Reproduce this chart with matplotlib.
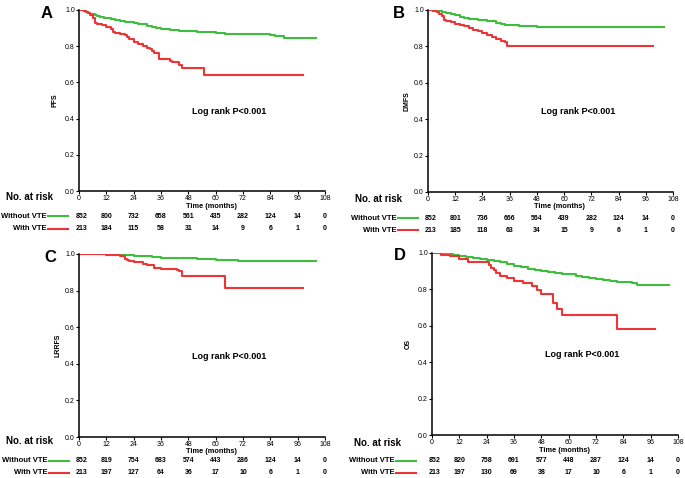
import matplotlib
matplotlib.use("Agg")
import matplotlib.pyplot as plt
from matplotlib.transforms import blended_transform_factory

plt.rcParams['font.family'] = ['Liberation Sans', 'DejaVu Sans']

W, H = 685, 478
GREEN = '#3dbf3d'
RED = '#ee3535'

risk_times = [0, 12, 24, 36, 48, 60, 72, 84, 96, 108]

# Panel A - PFS
a_t_without = [0, 1, 2, 3, 4, 5, 6, 7, 8, 9, 10, 11, 12, 14, 16, 18, 20, 22, 24, 26, 28, 30,
               32, 34, 36, 40, 44, 48, 52, 56, 60, 64, 68, 72, 78, 84, 86, 90, 104]
a_s_without = [1.0, 0.998, 0.995, 0.99, 0.985, 0.98, 0.976, 0.972, 0.968, 0.964, 0.96, 0.957,
               0.954, 0.948, 0.944, 0.94, 0.936, 0.932, 0.928, 0.925, 0.92, 0.913, 0.905,
               0.898, 0.893, 0.888, 0.885, 0.883, 0.88, 0.878, 0.874, 0.87, 0.868, 0.866,
               0.865, 0.862, 0.858, 0.844, 0.844]
a_t_with = [0, 2, 3, 4, 5, 6, 7, 8, 10, 12, 14, 15, 16, 18, 20, 21, 22, 24, 26, 28, 30, 31,
            32, 33, 35, 38, 40, 41, 44, 45, 48, 55, 98.5]
a_s_with = [1.0, 0.995, 0.99, 0.985, 0.97, 0.955, 0.93, 0.925, 0.915, 0.905, 0.895, 0.88,
            0.875, 0.87, 0.86, 0.85, 0.84, 0.822, 0.812, 0.8, 0.79, 0.785, 0.773, 0.76,
            0.727, 0.727, 0.72, 0.71, 0.695, 0.679, 0.679, 0.642, 0.642]
a_risk_without = [852, 800, 732, 658, 561, 435, 282, 124, 14, 0]
a_risk_with = [213, 184, 115, 58, 31, 14, 9, 6, 1, 0]

# Panel B - DMFS
b_t_without = [0, 2, 4, 6, 8, 10, 12, 14, 16, 18, 20, 22, 24, 26, 28, 30, 32, 34, 36, 40,
               44, 48, 60, 104]
b_s_without = [1.0, 0.997, 0.993, 0.987, 0.982, 0.977, 0.97, 0.963, 0.958, 0.953, 0.95,
               0.947, 0.945, 0.942, 0.937, 0.93, 0.925, 0.92, 0.917, 0.914, 0.912, 0.909,
               0.906, 0.906]
b_t_with = [0, 2, 4, 5, 6, 7, 8, 10, 12, 14, 16, 18, 20, 22, 24, 26, 28, 30, 32, 34, 35, 99]
b_s_with = [1.0, 0.995, 0.99, 0.98, 0.965, 0.945, 0.94, 0.935, 0.925, 0.918, 0.91, 0.9,
            0.892, 0.883, 0.872, 0.862, 0.85, 0.838, 0.83, 0.826, 0.804, 0.804]
b_risk_without = [852, 801, 736, 666, 564, 439, 282, 124, 14, 0]
b_risk_with = [213, 185, 118, 63, 34, 15, 9, 6, 1, 0]

# Panel C - LRRFS
c_t_without = [0, 10, 16, 20, 24, 28, 32, 36, 44, 52, 56, 60, 70, 104]
c_s_without = [1.0, 0.998, 0.996, 0.994, 0.991, 0.988, 0.982, 0.978, 0.976, 0.973, 0.97,
               0.966, 0.964, 0.963]
c_t_with = [0, 12, 15, 18, 20, 21, 22, 24, 28, 30, 33, 36, 43, 44, 45, 64, 98.5]
c_s_with = [1.0, 0.996, 0.992, 0.987, 0.975, 0.968, 0.961, 0.954, 0.948, 0.94, 0.923,
            0.92, 0.912, 0.905, 0.88, 0.814, 0.814]
c_risk_without = [852, 819, 754, 683, 574, 443, 286, 124, 14, 0]
c_risk_with = [213, 197, 127, 64, 36, 17, 10, 6, 1, 0]

# Panel D - OS
d_t_without = [0, 3, 6, 9, 12, 15, 18, 21, 24, 27, 30, 33, 36, 39, 42, 45, 48, 51, 54, 57,
               60, 63, 66, 69, 72, 75, 78, 81, 84, 88, 90, 104]
d_s_without = [1.0, 0.998, 0.995, 0.99, 0.985, 0.98, 0.975, 0.969, 0.962, 0.955, 0.948,
               0.94, 0.93, 0.922, 0.913, 0.906, 0.9, 0.896, 0.892, 0.887, 0.882, 0.876,
               0.87, 0.864, 0.857, 0.852, 0.848, 0.843, 0.84, 0.835, 0.822, 0.822]
d_t_with = [0, 4, 8, 12, 16, 24, 25, 26, 27, 28, 30, 33, 36, 40, 44, 46, 48, 53, 55, 57,
            81, 98]
d_s_with = [1.0, 0.99, 0.983, 0.965, 0.952, 0.95, 0.935, 0.92, 0.905, 0.89, 0.872, 0.865,
            0.844, 0.835, 0.817, 0.795, 0.775, 0.725, 0.69, 0.662, 0.582, 0.582]
d_risk_without = [852, 820, 758, 691, 577, 448, 287, 124, 14, 0]
d_risk_with = [213, 197, 130, 69, 38, 17, 10, 6, 1, 0]


fig = plt.figure(figsize=(W / 100, H / 100), dpi=100)


def px(x, y):
    # pixel (top-left origin) -> figure fraction
    return x / W, 1 - y / H


def panel(letter, ylabel, box, t_wo, s_wo, t_w, s_w, r_wo, r_w, lab):
    left, top, right, bottom = box
    ax = fig.add_axes([left / W, 1 - bottom / H, (right - left) / W, (bottom - top) / H])
    ax.step(t_wo, s_wo, where='post', color=GREEN, lw=1.5)
    ax.step(t_w, s_w, where='post', color=RED, lw=1.5)
    ax.set_xlim(0, 108)
    ax.set_ylim(0, 1.0)
    ax.set_xticks(risk_times)
    ax.set_yticks([0, 0.2, 0.4, 0.6, 0.8, 1.0])
    ax.set_yticklabels(['0.0', '0.2', '0.4', '0.6', '0.8', '1.0'])
    ax.tick_params(labelsize=5, length=2, width=0.8, pad=1)
    for s in ['top', 'right']:
        ax.spines[s].set_visible(False)
    for s in ['left', 'bottom']:
        ax.spines[s].set_linewidth(1.1)
    ax.patch.set_alpha(0)
    ax.text(66, 0.44, 'Log rank P<0.001', fontsize=6.5, fontweight='bold', ha='center', va='center')

    ylx, lx_end, ny, tly, r1, r2 = lab
    fig.text(*px(ylx, (top + bottom) / 2), ylabel, rotation=90, fontsize=5, fontweight='bold',
             ha='center', va='center')
    fig.text(*px(ylx - 8, top + 3), letter, fontsize=12, fontweight='bold', ha='center', va='center')
    fig.text(*px((left + right) / 2 + 9, tly), 'Time (months)', fontsize=5.3, fontweight='bold',
             ha='center', va='center')
    fig.text(*px(lx_end - 18, ny), 'No. at risk', fontsize=7, fontweight='bold',
             ha='center', va='center')

    tr = blended_transform_factory(ax.transData, fig.transFigure)
    for yrow, vals, name, col in [(r1, r_wo, 'Without VTE', GREEN), (r2, r_w, 'With VTE', RED)]:
        yf = 1 - yrow / H
        for t, v in zip(risk_times, vals):
            ax.text(t + (1 if t == 0 else 0), yf, str(v), transform=tr, fontsize=5,
                    fontweight='bold', ha='center', va='center', clip_on=False)
        fig.text(lx_end / W, yf, name, fontsize=5.5, fontweight='bold', ha='right', va='center')
        fig.add_artist(plt.Line2D([(lx_end + 1) / W, (lx_end + 21) / W], [yf, yf],
                                  color=col, lw=1.5))
    return ax


panel('A', 'PFS', (79, 10, 325, 191), a_t_without, a_s_without, a_t_with, a_s_with,
      a_risk_without, a_risk_with, (55, 47, 197, 207, 216, 229))
panel('B', 'DMFS', (428, 10, 673, 192), b_t_without, b_s_without, b_t_with, b_s_with,
      b_risk_without, b_risk_with, (407, 397, 199, 206, 218, 230))
panel('C', 'LRRFS', (79, 254, 325, 437), c_t_without, c_s_without, c_t_with, c_s_with,
      c_risk_without, c_risk_with, (58, 48, 441, 451.5, 461, 473))
panel('D', 'OS', (432, 253, 678, 435), d_t_without, d_s_without, d_t_with, d_s_with,
      d_risk_without, d_risk_with, (408, 395, 443, 451, 461, 473))

fig.savefig('out.png', dpi=100)
